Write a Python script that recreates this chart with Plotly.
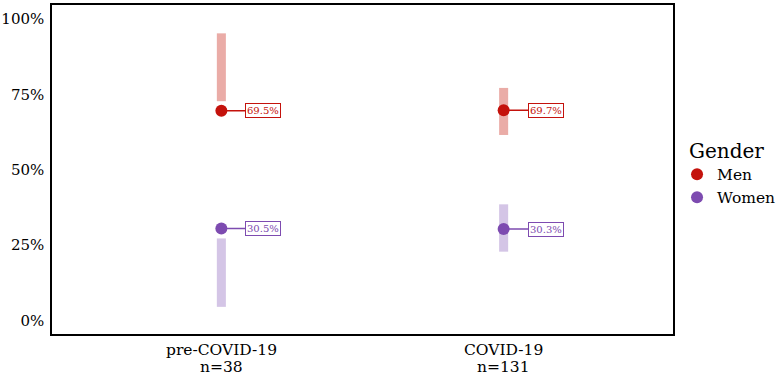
import plotly.graph_objects as go

period_names = ["pre-COVID-19", "COVID-19"]
period_n = ["n=38", "n=131"]
period_pos = [1, 2]
genders = ["Men", "Women"]
share = {"Men": [0.695, 0.697], "Women": [0.305, 0.303]}
ci_low = {"Men": [0.727, 0.615], "Women": [0.045, 0.228]}
ci_high = {"Men": [0.952, 0.771], "Women": [0.272, 0.385]}
labels = {"Men": ["69.5%", "69.7%"], "Women": ["30.5%", "30.3%"]}
y_ticks = [0, 0.25, 0.5, 0.75, 1.0]

point_color = {"Men": "#c4120c", "Women": "#7d4bb0"}
band_color = {"Men": "rgba(214,90,80,0.5)", "Women": "rgba(170,140,205,0.5)"}

FONT = "DejaVu Serif"
fig = go.Figure()

for g in genders:
    fig.add_trace(go.Bar(
        x=period_pos,
        y=[h - l for h, l in zip(ci_high[g], ci_low[g])],
        base=ci_low[g],
        width=0.032,
        marker=dict(color=band_color[g], line=dict(width=0)),
        showlegend=False,
        hoverinfo="skip",
    ))

for g in genders:
    fig.add_trace(go.Scatter(
        x=period_pos,
        y=share[g],
        mode="markers",
        name=g,
        marker=dict(color=point_color[g], size=12),
    ))
    for xp, yv, lab in zip(period_pos, share[g], labels[g]):
        fig.add_annotation(
            x=xp, y=yv, xref="x", yref="y",
            text=lab, showarrow=True, arrowhead=0, arrowwidth=1.5,
            arrowcolor=point_color[g], ax=42, ay=0, standoff=5,
            font=dict(family=FONT, size=10, color=point_color[g]),
            bordercolor=point_color[g], borderwidth=1, borderpad=1,
            bgcolor="white",
        )

# two-line category labels under the x axis
for xp, name, n in zip(period_pos, period_names, period_n):
    fig.add_annotation(x=xp, y=0, xref="x", yref="paper", text=name,
                       showarrow=False, yanchor="middle", yshift=-16,
                       font=dict(family=FONT, size=15.5, color="black"))
    fig.add_annotation(x=xp, y=0, xref="x", yref="paper", text=n,
                       showarrow=False, yanchor="middle", yshift=-33,
                       font=dict(family=FONT, size=15.5, color="black"))

fig.add_annotation(x=1.0, y=0.5, xref="paper", yref="paper", text="Gender",
                   showarrow=False, xanchor="left", yanchor="middle",
                   xshift=14, yshift=19,
                   font=dict(family=FONT, size=20, color="black"))

fig.update_layout(
    width=780, height=377,
    margin=dict(l=52, r=107, t=5, b=43),
    plot_bgcolor="white", paper_bgcolor="white",
    barmode="overlay",
    font=dict(family=FONT, size=15, color="black"),
    legend=dict(
        font=dict(family=FONT, size=15.5),
        x=0.868, xanchor="left", xref="container",
        y=0.582, yanchor="top", yref="container",
        tracegroupgap=0, itemsizing="constant",
        borderwidth=0, bgcolor="rgba(0,0,0,0)",
    ),
    xaxis=dict(
        range=[0.4, 2.6], tickvals=period_pos, ticktext=["", ""],
        showgrid=False, zeroline=False, showline=True, mirror=True,
        linecolor="black", linewidth=1.5, ticks="", automargin=False,
    ),
    yaxis=dict(
        range=[-0.045, 1.046], tickvals=y_ticks,
        tickformat=".0%", showgrid=False, zeroline=False, showline=True,
        mirror=True, linecolor="black", linewidth=1.5, ticks="",
        automargin=False, ticklabelstandoff=3,
        tickfont=dict(family=FONT, size=15, color="black"),
    ),
)

fig.write_html(
    "out.html",
    config={"displayModeBar": False},
    post_script="document.body.style.margin='0';document.body.style.overflow='hidden';",
)
